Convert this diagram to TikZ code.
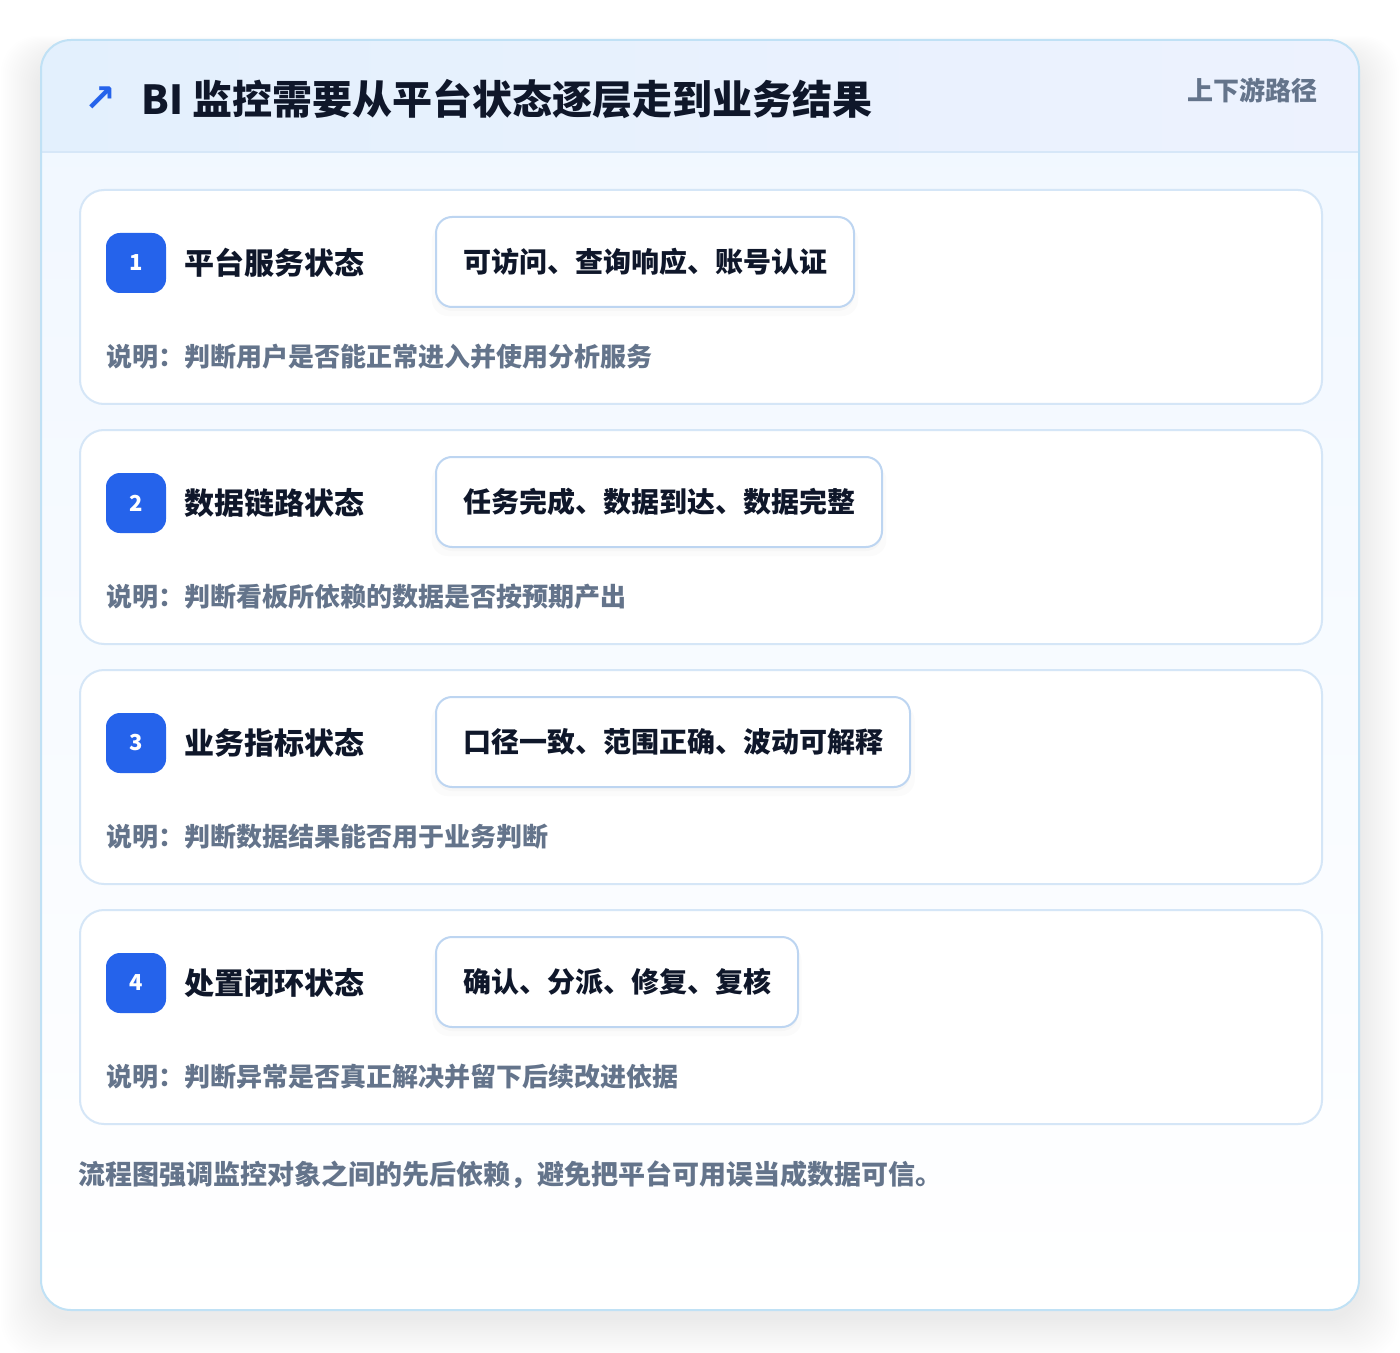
\documentclass[tikz,border=0pt]{standalone}
\usepackage{fontspec}
\setmainfont{Noto Sans CJK SC}
\newfontfamily\symfont{DejaVu Sans}
\usetikzlibrary{shadows}

\definecolor{frameline}{HTML}{C0E1F5}
\definecolor{headleft}{HTML}{E3F0FD}
\definecolor{headright}{HTML}{EDF2FE}
\definecolor{bodytop}{HTML}{F0F7FF}
\definecolor{divline}{HTML}{D6E7F8}
\definecolor{cardline}{HTML}{D5E6F7}
\definecolor{pillline}{HTML}{BDD5F1}
\definecolor{accent}{HTML}{2563EB}
\definecolor{ink}{HTML}{0F172A}
\definecolor{muted}{HTML}{64748B}

\tikzset{
  card/.style={draw=cardline, line width=1pt, fill=white, rounded corners=12pt,
    minimum width=621pt, minimum height=107pt, inner sep=0pt},
  badge/.style={fill=accent, rounded corners=7pt, minimum size=30pt, inner sep=0pt,
    text=white, font=\bfseries\fontsize{11}{13}\selectfont},
  stagelbl/.style={inner sep=0pt, text=ink, font=\bfseries\fontsize{15}{18}\selectfont},
  pillbox/.style={draw=pillline, line width=1pt, fill=white, rounded corners=8pt,
    minimum height=45pt, inner xsep=13.5pt, inner ysep=0pt, text=ink,
    font=\bfseries\fontsize{14}{17}\selectfont,
    general shadow={shadow yshift=-2pt, fill=black, opacity=0.02},
    general shadow={shadow yshift=-4pt, shadow scale=1.02, fill=black, opacity=0.015}},
  note/.style={inner sep=0pt, text=muted, font=\bfseries\fontsize{13}{16}\selectfont},
}

% one monitoring layer: name, top y, number, label, checks, note
\newcommand\Stage[6]{%
  \begin{scope}[shift={(0,#2)}]
    \node[card, anchor=north west] (card#1) at (79,0) {};
    \node[badge] (badge#1) at (136,74) {#3};
    \node[stagelbl, anchor=west] (lbl#1) at (184,74) {#4};
    \node[pillbox, anchor=west] (pill#1) at (435,73) {#5};
    \node[note, anchor=west] (desc#1) at (106,168) {#6};
  \end{scope}
}

\begin{document}
\begin{tikzpicture}[x=0.5pt, y=-0.5pt]
  \useasboundingbox (0,0) rectangle (1400,1352);
  \fill[white] (0,0) rectangle (1400,1352);

  % soft shadow of the frame
  \foreach \k in {1,...,20}
    \fill[black, opacity=0.0035, rounded corners=18pt]
      ({41-2*\k},{56-\k}) rectangle ({1359+2*\k},{1318+2*\k});

  % frame
  \begin{scope}
    \clip[rounded corners=15pt] (41,40) rectangle (1359,1310);
    \shade[top color=bodytop, bottom color=white] (41,40) rectangle (1359,1310);
    \shade[left color=headleft, right color=headright] (41,40) rectangle (1359,152);
  \end{scope}
  \draw[divline, line width=1pt] (41,152) -- (1359,152);
  \draw[frameline, line width=1pt, rounded corners=15pt] (41,40) rectangle (1359,1310);

  % header
  \node[anchor=west, inner sep=0pt, text=accent, font=\symfont\bfseries\fontsize{19}{22}\selectfont]
    (icon) at (84,99) {↗};
  \node[anchor=west, inner sep=0pt, text=ink, font=\bfseries\fontsize{20}{24}\selectfont]
    (title) at (141,99) {BI 监控需要从平台状态逐层走到业务结果};
  \node[anchor=east, inner sep=0pt, text=muted, font=\bfseries\fontsize{13}{16}\selectfont]
    (scope) at (1318,90) {上下游路径};

  % layers
  \Stage{1}{189}{1}{平台服务状态}{可访问、查询响应、账号认证}{说明：判断用户是否能正常进入并使用分析服务}
  \Stage{2}{429}{2}{数据链路状态}{任务完成、数据到达、数据完整}{说明：判断看板所依赖的数据是否按预期产出}
  \Stage{3}{669}{3}{业务指标状态}{口径一致、范围正确、波动可解释}{说明：判断数据结果能否用于业务判断}
  \Stage{4}{909}{4}{处置闭环状态}{确认、分派、修复、复核}{说明：判断异常是否真正解决并留下后续改进依据}

  \node[note, anchor=west, font=\bfseries\fontsize{13.5}{16}\selectfont] (footer) at (78,1175)
    {流程图强调监控对象之间的先后依赖，避免把平台可用误当成数据可信。};
\end{tikzpicture}
\end{document}
